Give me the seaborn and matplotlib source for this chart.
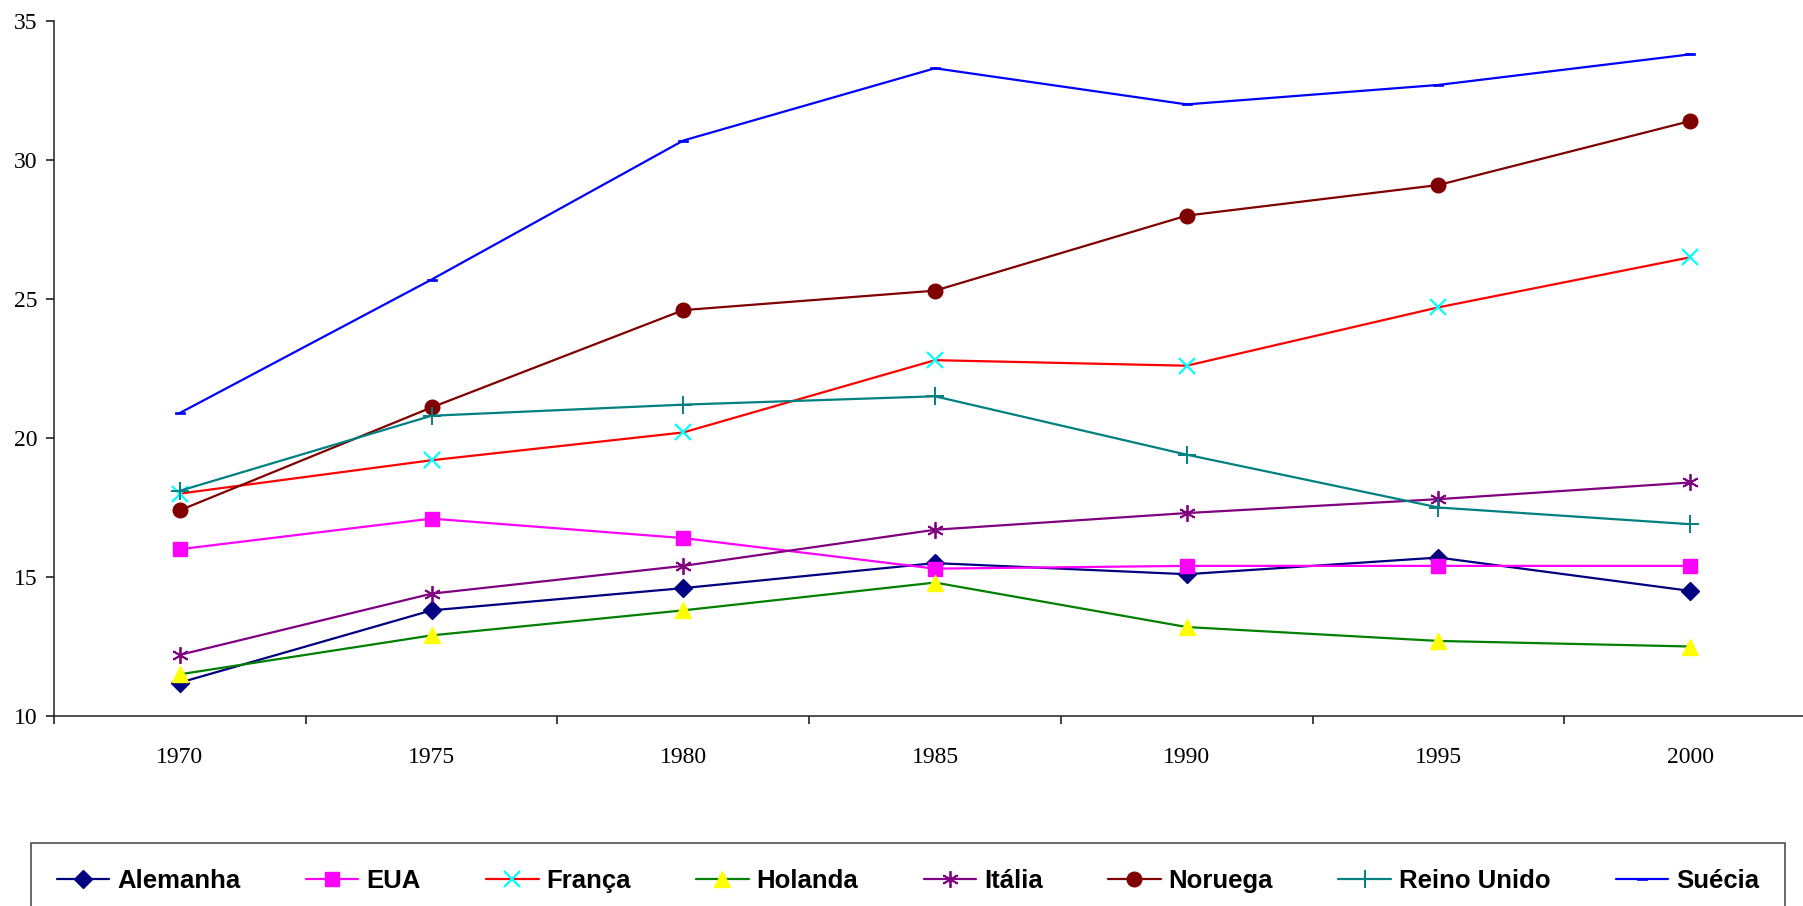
import pandas as pd
import numpy as np
import matplotlib
matplotlib.use('Agg')
import matplotlib.pyplot as plt
from matplotlib.ticker import FixedLocator
import seaborn as sns

# data
anos = ['1970', '1975', '1980', '1985', '1990', '1995', '2000']
alemanha = [11.2, 13.8, 14.6, 15.5, 15.1, 15.7, 14.5]
eua = [16.0, 17.1, 16.4, 15.3, 15.4, 15.4, 15.4]
franca = [18.0, 19.2, 20.2, 22.8, 22.6, 24.7, 26.5]
holanda = [11.5, 12.9, 13.8, 14.8, 13.2, 12.7, 12.5]
italia = [12.2, 14.4, 15.4, 16.7, 17.3, 17.8, 18.4]
noruega = [17.4, 21.1, 24.6, 25.3, 28.0, 29.1, 31.4]
reino_unido = [18.1, 20.8, 21.2, 21.5, 19.4, 17.5, 16.9]
suecia = [20.9, 25.7, 30.7, 33.3, 32.0, 32.7, 33.8]

paises = ['Alemanha', 'EUA', 'França', 'Holanda', 'Itália', 'Noruega', 'Reino Unido', 'Suécia']
valores = [alemanha, eua, franca, holanda, italia, noruega, reino_unido, suecia]

df = pd.DataFrame({
    'ano': anos * len(paises),
    'pais': np.repeat(paises, len(anos)),
    'valor': np.concatenate(valores),
})

# marker for the dash used by Suécia
dash = [(-1, -0.3), (1, -0.3), (1, 0.3), (-1, 0.3), (-1, -0.3)]

estilos = {
    'Alemanha': dict(color='#000080', marker='D', markersize=9.5, mfc='#000080', mec='#000080'),
    'EUA': dict(color='#FF00FF', marker='s', markersize=10, mfc='#FF00FF', mec='#FF00FF'),
    'França': dict(color='#FF0000', marker='x', markersize=11, mfc='#00FFFF', mec='#00FFFF', mew=1.6),
    'Holanda': dict(color='#008000', marker='^', markersize=12, mfc='#FFFF00', mec='#FFFF00'),
    'Itália': dict(color='#800080', marker=(6, 2, 0), markersize=12, mfc='#800080', mec='#800080', mew=1.3),
    'Noruega': dict(color='#800000', marker='o', markersize=10.5, mfc='#800000', mec='#800000'),
    'Reino Unido': dict(color='#008080', marker='+', markersize=13, mfc='#008080', mec='#008080', mew=1.4),
    'Suécia': dict(color='#0000FF', marker=dash, markersize=7, mfc='#0000FF', mec='#0000FF', mew=0.5),
}

sns.set_style('white')
plt.rcParams['font.family'] = ['Liberation Serif', 'DejaVu Serif']

fig = plt.figure(figsize=(18.03, 9.06), dpi=100)
ax = fig.add_axes([54 / 1803, 1 - 716 / 906, (1816 - 54) / 1803, (716 - 21) / 906])

for pais in paises:
    st = estilos[pais]
    sns.lineplot(data=df[df['pais'] == pais], x='ano', y='valor', ax=ax,
                 color=st['color'], marker=st['marker'], markersize=st['markersize'],
                 markerfacecolor=st['mfc'], markeredgecolor=st['mec'],
                 markeredgewidth=st.get('mew', 1.0), linewidth=1.6,
                 label=pais, sort=False, errorbar=None)

ax.set_xlim(-0.5, 6.5)
ax.set_ylim(10, 35)
ax.set_yticks([10, 15, 20, 25, 30, 35])
ax.set_xlabel('')
ax.set_ylabel('')

for s in ['top', 'right']:
    ax.spines[s].set_visible(False)
for s in ['left', 'bottom']:
    ax.spines[s].set_color('#222222')
    ax.spines[s].set_linewidth(1.1)

ax.xaxis.set_minor_locator(FixedLocator(np.arange(-0.5, 6.0, 1.0)))
ax.tick_params(axis='x', which='major', length=0, pad=22, labelsize=17, labelcolor='black')
ax.tick_params(axis='x', which='minor', length=6, width=1.2, color='#222222', direction='out', bottom=True)
ax.tick_params(axis='y', which='major', length=6, width=1.2, color='#222222', direction='out',
               left=True, pad=6, labelsize=17, labelcolor='black')

leg = ax.legend(ncol=8, loc='upper left', bbox_to_anchor=(31 / 1803, 1 - 843 / 906, (1785 - 31) / 1803, 0),
                bbox_transform=fig.transFigure, mode='expand', borderaxespad=0,
                frameon=True, fancybox=False, edgecolor='#222222', borderpad=1.0,
                handlelength=2.05, handletextpad=0.3,
                prop={'family': ['Liberation Sans', 'DejaVu Sans'], 'weight': 'bold', 'size': 18.5})
leg.get_frame().set_linewidth(1.2)
for t in leg.get_texts():
    t.set_color('black')

fig.savefig('out.png', dpi=100, facecolor='white')
